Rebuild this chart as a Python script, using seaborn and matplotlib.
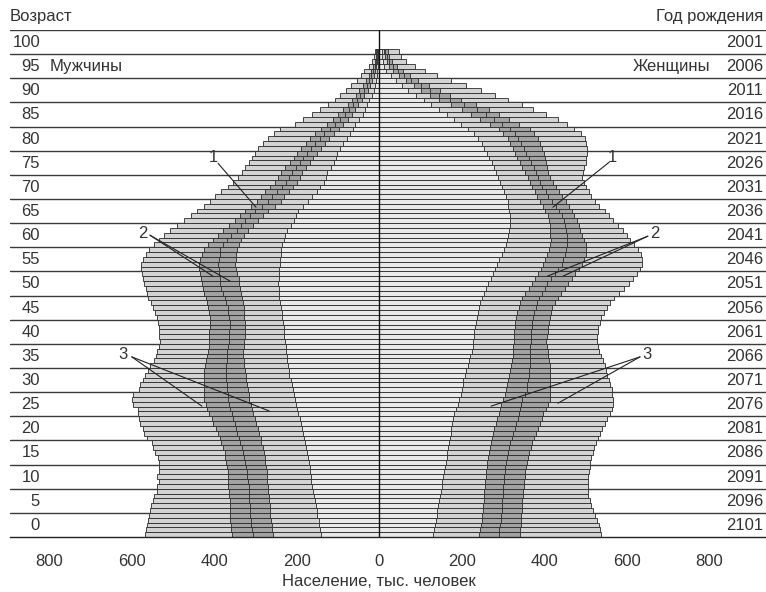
import matplotlib
matplotlib.use("Agg")
import matplotlib.pyplot as plt
import seaborn as sns
import pandas as pd

ages = list(range(101))

# Men (thousands): outer total, dark band outer edge, dark band middle, dark band inner edge, innermost light
male_total = [568, 566, 564, 560, 558, 556, 554, 549, 546, 540,
              538, 533, 540, 533, 533, 533, 536, 544, 548, 552,
              564, 571, 574, 579, 582, 584, 584, 596, 600, 596,
              582, 579, 572, 568, 560, 556, 546, 541, 538, 533,
              532, 533, 533, 533, 536, 540, 544, 548, 554, 560,
              564, 566, 570, 574, 576, 578, 578, 574, 566, 558,
              546, 535, 522, 508, 490, 473, 457, 441, 426, 410,
              398, 384, 368, 354, 342, 333, 325, 316, 309, 301,
              293, 283, 271, 255, 241, 204, 184, 164, 144, 124,
              108, 95, 80, 68, 55, 45, 36, 24, 18, 12, 10]
male_dark_outer = [358, 359, 360, 361, 362, 362, 363, 363, 364, 365,
                   366, 366, 367, 367, 369, 371, 373, 375, 379, 383,
                   387, 392, 397, 402, 406, 412, 417, 421, 424, 425,
                   426, 426, 426, 426, 425, 423, 420, 418, 416, 414,
                   413, 413, 412, 411, 410, 410, 412, 415, 418, 421,
                   425, 428, 430, 432, 435, 436, 436, 434, 430, 424,
                   416, 404, 392, 378, 364, 350, 338, 326, 311, 297,
                   287, 277, 265, 253, 246, 239, 228, 216, 208, 200,
                   189, 178, 167, 156, 141, 127, 113, 99, 87, 75,
                   65, 56, 48, 40, 32, 26, 20, 15, 11, 8, 7]
male_dark_mid = [307, 308, 310, 311, 313, 314, 314, 315, 316, 316,
                 317, 318, 320, 321, 323, 325, 328, 330, 333, 337,
                 341, 344, 348, 351, 354, 358, 362, 365, 367, 368,
                 369, 370, 371, 371, 371, 371, 370, 370, 369, 367,
                 365, 364, 364, 363, 363, 364, 366, 368, 371, 375,
                 379, 383, 385, 387, 388, 389, 390, 389, 387, 385,
                 378, 370, 360, 346, 336, 326, 313, 301, 285, 269,
                 259, 249, 237, 226, 219, 212, 202, 192, 184, 176,
                 166, 156, 144, 133, 120, 107, 95, 83, 73, 63,
                 54, 46, 38, 31, 24, 20, 15, 11, 8, 6, 5]
male_dark_inner = [257, 259, 261, 262, 264, 265, 266, 267, 268, 270,
                   271, 272, 272, 273, 274, 276, 278, 280, 283, 286,
                   288, 292, 295, 298, 301, 305, 309, 312, 315, 317,
                   319, 321, 323, 324, 326, 327, 329, 330, 330, 328,
                   327, 326, 326, 326, 326, 327, 328, 329, 330, 332,
                   335, 337, 339, 341, 344, 347, 350, 348, 347, 345,
                   340, 336, 327, 318, 305, 293, 281, 269, 254, 239,
                   230, 220, 210, 199, 193, 188, 178, 168, 160, 152,
                   142, 132, 121, 110, 98, 87, 77, 67, 59, 51,
                   43, 36, 28, 23, 18, 14, 11, 8, 6, 4, 3]
male_inner = [142, 144, 145, 147, 150, 152, 154, 157, 159, 161,
              164, 165, 166, 167, 169, 171, 173, 175, 178, 180,
              183, 185, 188, 190, 192, 196, 199, 203, 205, 208,
              210, 212, 215, 218, 220, 222, 223, 224, 226, 227,
              229, 230, 231, 232, 233, 235, 237, 239, 241, 242,
              243, 243, 245, 244, 242, 242, 241, 240, 238, 238,
              235, 232, 228, 224, 214, 208, 202, 196, 184, 172,
              162, 152, 143, 134, 130, 127, 118, 110, 106, 103,
              95, 87, 78, 70, 64, 59, 50, 39, 35, 30,
              24, 18, 13, 10, 8, 6, 5, 4, 3, 2, 2]

# Women (thousands)
female_total = [537, 535, 532, 527, 522, 517, 513, 510, 507, 506,
                507, 506, 507, 508, 510, 511, 514, 518, 521, 525,
                529, 535, 541, 547, 553, 559, 563, 566, 567, 565,
                563, 560, 556, 553, 550, 547, 542, 537, 532, 529,
                528, 528, 529, 531, 534, 538, 544, 551, 560, 570,
                580, 594, 606, 616, 625, 631, 636, 637, 635, 628,
                617, 609, 600, 590, 579, 567, 557, 546, 533, 523,
                514, 508, 502, 496, 492, 493, 497, 500, 502, 503,
                503, 502, 498, 488, 472, 455, 434, 405, 373, 345,
                313, 280, 247, 209, 173, 141, 110, 86, 64, 52, 47]
female_dark_outer = [341, 342, 343, 343, 344, 345, 346, 347, 348, 349,
                     351, 352, 353, 354, 355, 357, 361, 364, 368, 371,
                     375, 380, 385, 389, 394, 398, 405, 410, 413, 414,
                     415, 415, 415, 415, 415, 414, 412, 410, 408, 406,
                     405, 406, 408, 410, 411, 413, 416, 419, 425, 433,
                     441, 450, 458, 466, 474, 483, 491, 496, 501, 502,
                     500, 497, 492, 487, 483, 479, 472, 466, 460, 452,
                     443, 436, 428, 422, 414, 409, 406, 404, 402, 399,
                     395, 390, 385, 376, 365, 338, 314, 290, 265, 235,
                     199, 172, 146, 120, 94, 74, 57, 42, 31, 24, 20]
female_dark_mid = [290, 291, 293, 294, 296, 297, 298, 298, 299, 300,
                   301, 302, 303, 304, 305, 307, 310, 313, 315, 318,
                   321, 325, 329, 332, 336, 339, 341, 343, 347, 353,
                   357, 359, 361, 363, 364, 365, 365, 366, 366, 366,
                   367, 367, 368, 369, 371, 373, 376, 379, 383, 388,
                   395, 401, 407, 416, 426, 434, 442, 446, 450, 453,
                   454, 455, 454, 452, 450, 447, 443, 436, 428, 419,
                   410, 403, 395, 390, 385, 380, 375, 368, 362, 356,
                   350, 344, 337, 328, 316, 298, 278, 258, 236, 205,
                   171, 145, 122, 100, 78, 60, 45, 33, 24, 18, 15]
female_dark_inner = [242, 244, 246, 248, 250, 251, 252, 253, 254, 255,
                     256, 257, 258, 259, 260, 262, 264, 266, 268, 270,
                     273, 276, 279, 283, 286, 290, 292, 295, 299, 304,
                     308, 310, 313, 315, 318, 320, 321, 323, 324, 325,
                     326, 327, 327, 328, 330, 332, 335, 338, 342, 347,
                     354, 362, 369, 377, 385, 392, 398, 402, 406, 411,
                     414, 416, 415, 414, 413, 411, 408, 402, 396, 390,
                     383, 377, 371, 366, 360, 354, 347, 341, 335, 330,
                     324, 318, 311, 301, 290, 268, 245, 222, 201, 175,
                     144, 122, 102, 83, 65, 48, 33, 24, 18, 13, 11]
female_inner = [131, 133, 135, 137, 139, 141, 143, 145, 147, 149,
                151, 153, 155, 157, 159, 161, 163, 165, 167, 169,
                171, 173, 175, 177, 179, 182, 186, 190, 194, 197,
                200, 202, 204, 207, 211, 215, 218, 221, 224, 226,
                227, 229, 230, 232, 235, 238, 240, 242, 245, 248,
                253, 258, 264, 270, 276, 280, 285, 291, 297, 302,
                307, 310, 312, 315, 316, 317, 317, 315, 313, 311,
                307, 303, 297, 293, 288, 284, 278, 273, 266, 260,
                255, 248, 240, 229, 214, 198, 181, 163, 144, 125,
                108, 90, 70, 55, 41, 29, 17, 12, 9, 7, 6]

age_ticks = list(range(0, 101, 5))
age_labels = [str(a) for a in age_ticks]
year_labels = [str(2101 - a) for a in age_ticks]
x_ticks = [-800, -600, -400, -200, 0, 200, 400, 600, 800]
x_tick_labels = ["800", "600", "400", "200", "0", "200", "400", "600", "800"]

sns.set_style("white")
plt.rcParams["font.family"] = ["Liberation Sans", "DejaVu Sans"]

W, H = 766, 592
fig = plt.figure(figsize=(W / 100, H / 100), dpi=100)
ax = fig.add_axes([10 / W, 55 / H, 756 / W, 507 / H])

LIGHT_OUT = "#d3d3d3"
DARK = "#a2a2a2"
LIGHT_IN = "#e9e9e9"
EDGE = "#2a2a2a"

layers = [
    (male_total, female_total, LIGHT_OUT),
    (male_dark_outer, female_dark_outer, DARK),
    (male_dark_mid, female_dark_mid, DARK),
    (male_dark_inner, female_dark_inner, LIGHT_OUT),
    (male_inner, female_inner, LIGHT_IN),
]

for mvals, fvals, col in layers:
    df = pd.DataFrame({
        "age": ages + ages,
        "value": [-v for v in mvals] + list(fvals),
        "sex": ["m"] * len(ages) + ["f"] * len(ages),
    })
    for sex in ["m", "f"]:
        sub = df[df["sex"] == sex]
        sns.barplot(data=sub, x="value", y="age", orient="y", native_scale=True,
                    color=col, saturation=1, edgecolor=EDGE, linewidth=0.6,
                    width=1.0, errorbar=None, ax=ax, zorder=2)

ax.set_xlim(-895.3, 937.5)
ax.set_ylim(-0.5, 104.5)
ax.set_xlabel("")
ax.set_ylabel("")

# horizontal separators every 5 years
for yb in range(5, 106, 5):
    ax.axhline(yb - 0.5, color="#3a3a3a", lw=1.0, zorder=1)
ax.axvline(0, color="#111111", lw=1.0, zorder=5)

for s in ["left", "right", "top"]:
    ax.spines[s].set_visible(False)
ax.spines["bottom"].set_color("#222222")
ax.spines["bottom"].set_linewidth(1.0)

ax.set_yticks([])
ax.set_xticks(x_ticks)
ax.set_xticklabels(x_tick_labels, fontsize=12, color="#333333")
ax.tick_params(axis="x", direction="in", length=6.5, width=1.0, color="#222222", pad=12)

trans = ax.get_yaxis_transform()
for a, lab, yr in zip(age_ticks, age_labels, year_labels):
    ax.text(0.0397, a + 1.9, lab, transform=trans, ha="right", va="center",
            fontsize=12, color="#333333")
    ax.text(0.996, a + 1.9, yr, transform=trans, ha="right", va="center",
            fontsize=12, color="#333333")

ax.text(0.0529, 96.9, "Мужчины", transform=trans, ha="left", va="center",
        fontsize=12, color="#333333")
ax.text(0.926, 96.9, "Женщины", transform=trans, ha="right", va="center",
        fontsize=12, color="#333333")

fig.text(10 / W, 1 - 17 / H, "Возраст", ha="left", va="center", fontsize=12, color="#333333")
fig.text(763 / W, 1 - 17 / H, "Год рождения", ha="right", va="center", fontsize=12, color="#333333")
fig.text(379 / W, 1 - 582 / H, "Население, тыс. человек", ha="center", va="center",
         fontsize=12, color="#333333")

# curve annotations
ann = [
    ("1", (-403, 78.0), (-391, 76.9), [(-299, 67.8)]),
    ("2", (-573, 62.4), (-556, 62.0), [(-403, 53.5), (-362, 52.5)]),
    ("3", (-621, 37.2), (-600, 36.8), [(-430, 26.6), (-267, 25.6)]),
    ("1", (564, 78.0), (557, 77.1), [(421, 67.8)]),
    ("2", (668, 62.4), (651, 61.8), [(407, 53.5), (445, 53.5)]),
    ("3", (649, 37.2), (632, 36.8), [(271, 26.6), (433, 27.2)]),
]
for lab, pos, start, ends in ann:
    ax.text(pos[0], pos[1], lab, ha="center", va="center", fontsize=12, color="#333333", zorder=6)
    for e in ends:
        ax.plot([start[0], e[0]], [start[1], e[1]], color="#222222", lw=0.8, zorder=6)

fig.savefig("out.png", dpi=100)
